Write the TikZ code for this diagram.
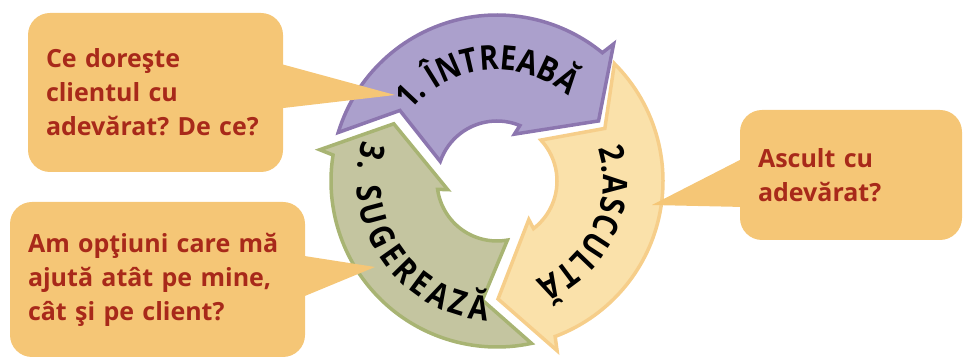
\documentclass[tikz,border=0pt]{standalone}
\usepackage{fontspec}
\setmainfont{Open Sans}
\newfontfamily\arcfamily[FakeStretch=0.85]{Open Sans}
\usetikzlibrary{positioning,decorations.text}

\definecolor{askfill}{HTML}{ABA0CC}
\definecolor{askline}{HTML}{8C76AF}
\definecolor{listenfill}{HTML}{FAE1AA}
\definecolor{listenline}{HTML}{F6CE8A}
\definecolor{suggestfill}{HTML}{C4C5A0}
\definecolor{suggestline}{HTML}{A8B473}
\definecolor{bubblefill}{HTML}{F5C676}
\definecolor{bubbletext}{HTML}{A8291A}

\newcommand{\bubblefont}{\fontsize{25}{34}\selectfont\bfseries\frenchspacing}
\newcommand{\arcfont}{\arcfamily\fontsize{34}{34}\selectfont\bfseries}

% one block of the cycle: style, tail angle, tip angle
\newcommand{\cyclearrow}[3]{%
  \draw[#1] (#2+1:166) arc[start angle=#2+1, end angle=#3+20, radius=166]
    -- (#3+19:180) -- (#3:118) -- (#3+39:50) -- (#3+37:60)
    arc[start angle=#3+37, end angle=#2-1, radius=60]
    -- (#2-18:120) -- cycle;}

\begin{document}
\begin{tikzpicture}[
        x=1pt, y=1pt,
        block/.style={line width=3.5pt, line join=miter},
        bubble/.style={rectangle, rounded corners=22pt, fill=bubblefill, text=bubbletext,
            font=\bubblefont, align=left, inner xsep=18pt, inner ysep=0pt},
        pointer/.style={fill=bubblefill},
        arclabel/.style={decorate, decoration={text along path, text align={fit to path}, text color=black}}
    ]
    \useasboundingbox (0,0) rectangle (964,358);

    % Cycle
    \begin{scope}[shift={(497,177)}]
        \cyclearrow{block, fill=askfill, draw=askline}{162}{30.6}
        \cyclearrow{block, fill=listenfill, draw=listenline}{44}{-89.5}
        \cyclearrow{block, fill=suggestfill, draw=suggestline}{-79}{-209}
    \end{scope}

    % Bubbles
    \node[bubble, minimum width=255pt, minimum height=159pt, text width=219pt] (ask) at (155.5,265.5)
        {Ce doreşte\\clientul cu\\adevărat? De ce?};
    \node[bubble, minimum width=222pt, minimum height=130pt, text width=186pt] (listen) at (851,183)
        {Ascult cu\\adevărat?};
    \node[bubble, minimum width=295pt, minimum height=155pt, text width=259pt] (suggest) at (157.5,78.5)
        {Am opţiuni care mă\\ajută atât pe mine,\\cât şi pe client?};

    % Pointers
    \coordinate (asktip) at (395,263);
    \coordinate (listentip) at (652,153);
    \coordinate (suggesttip) at (375,91);
    \fill[pointer] ([xshift=-4pt, yshift=29pt]ask.east) -- (asktip) -- ([xshift=-4pt, yshift=-16pt]ask.east) -- cycle;
    \fill[pointer] ([xshift=4pt, yshift=17pt]listen.west) -- (listentip) -- ([xshift=4pt, yshift=-32pt]listen.west) -- cycle;
    \fill[pointer] ([xshift=-4pt, yshift=24pt]suggest.east) -- (suggesttip) -- ([xshift=-4pt, yshift=-18pt]suggest.east) -- cycle;

    % Labels on the cycle
    \begin{scope}[shift={(497,177)}]
        \path[arclabel, decoration={text={|\arcfont|1. ÎNTREABĂ}}]
            (141:111) arc[start angle=141, end angle=51, radius=111];
        \path[arclabel, decoration={text={|\arcfont|2.ASCULTĂ}}]
            (18:106) arc[start angle=18, end angle=-69, radius=106];
        \path[arclabel, decoration={text={|\arcfont|3. SUGEREAZĂ}}]
            (163:140) arc[start angle=163, end angle=266, radius=140];
    \end{scope}
\end{tikzpicture}
\end{document}
